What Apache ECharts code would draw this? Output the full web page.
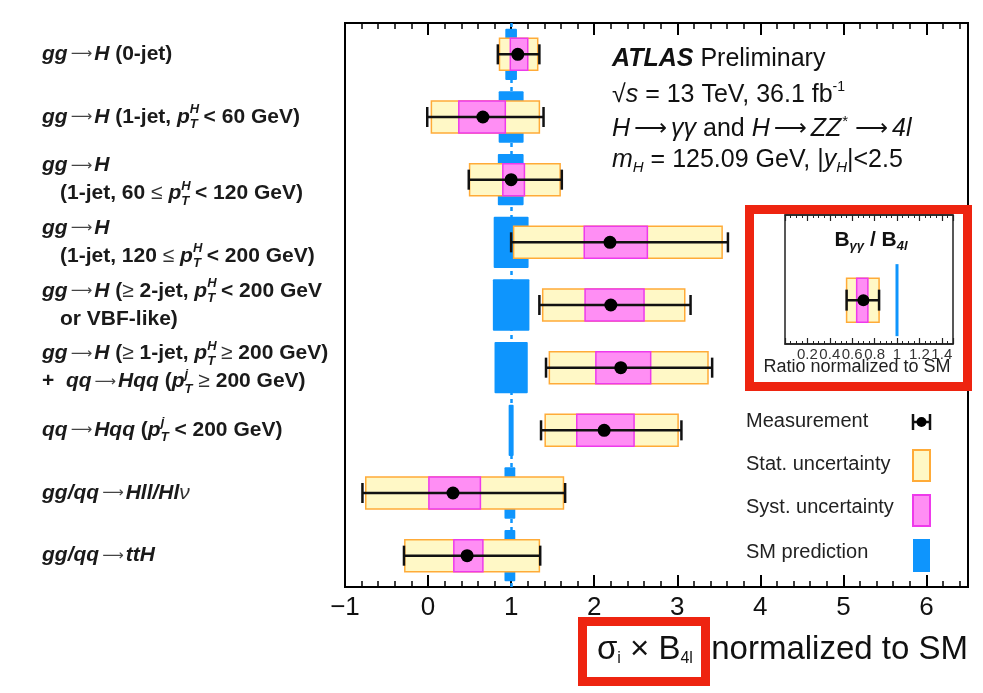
<!DOCTYPE html>
<html lang="en">
<head>
<meta charset="UTF-8">
<title>ATLAS STXS</title>
<style>
  html, body { margin: 0; padding: 0; background: #fff; }
  #chart { width: 983px; height: 693px; }
</style>
</head>
<body>
<div id="chart"></div>
<script src="https://cdn.jsdelivr.net/npm/echarts@6/dist/echarts.min.js"></script>
<script>
// row labels, top to bottom (rich text)
var categories = [
  '{bi|gg}{ar|⟶}{bi|H} {b|(0-jet)}',
  '{bi|gg}{ar|⟶}{bi|H} {b|(1-jet,} {bi|p}{sup|H}{sub|T} {b|< 60 GeV)}',
  '{bi|gg}{ar|⟶}{bi|H}\n{ind| }{b|(1-jet, 60} {rel|≤} {bi|p}{sup|H}{sub|T} {b|< 120 GeV)}',
  '{bi|gg}{ar|⟶}{bi|H}\n{ind| }{b|(1-jet, 120} {rel|≤} {bi|p}{sup|H}{sub|T} {b|< 200 GeV)}',
  '{bi|gg}{ar|⟶}{bi|H} {b|(}{rel|≥}{b| 2-jet,} {bi|p}{sup|H}{sub|T} {b|< 200 GeV}\n{ind| }{b|or VBF-like)}',
  '{bi|gg}{ar|⟶}{bi|H} {b|(}{rel|≥}{b| 1-jet,} {bi|p}{sup|H}{sub|T} {rel|≥}{b| 200 GeV)}\n{b|+}  {bi|qq}{ar|⟶}{bi|Hqq} {b|(}{bi|p}{sup|j}{sub|T} {rel|≥}{b| 200 GeV)}',
  '{bi|qq}{ar|⟶}{bi|Hqq} {b|(}{bi|p}{sup|j}{sub|T} {b|< 200 GeV)}',
  '{bi|gg/qq}{ar|⟶}{bi|Hll/Hl}{nu|ν}',
  '{bi|gg/qq}{ar|⟶}{bi|ttH}'
];

// sigma_i x B_4l normalized to SM
var central = [1.08, 0.66, 1.00, 2.19, 2.20, 2.32, 2.12, 0.30, 0.47];
var statLo  = [0.86, 0.04, 0.50, 1.03, 1.38, 1.46, 1.41, -0.75, -0.28];
var statHi  = [1.32, 1.34, 1.59, 3.54, 3.09, 3.37, 3.01, 1.63, 1.34];
var systLo  = [0.99, 0.37, 0.90, 1.88, 1.89, 2.02, 1.79, 0.01, 0.31];
var systHi  = [1.20, 0.93, 1.16, 2.64, 2.60, 2.68, 2.48, 0.63, 0.66];
var totLo   = [0.84, -0.01, 0.49, 1.00, 1.34, 1.42, 1.36, -0.79, -0.29];
var totHi   = [1.34, 1.39, 1.61, 3.61, 3.16, 3.42, 3.05, 1.65, 1.35];
// SM prediction uncertainty band
var smLo    = [0.93, 0.85, 0.84, 0.79, 0.78, 0.80, 0.97, 0.92, 0.92];
var smHi    = [1.07, 1.15, 1.15, 1.21, 1.22, 1.20, 1.03, 1.05, 1.05];

// B_yy / B_4l inset
var ratioCentral = [0.70];
var ratioStat = [0.55, 0.84];
var ratioSyst = [0.64, 0.74];
var ratioTot = [0.55, 0.84];
var ratioSM = [1];

var xTicks = [-1, 0, 1, 2, 3, 4, 5, 6];

var FONT = '"Liberation Sans", Arial, Helvetica, sans-serif';
var SYM = '"DejaVu Sans", sans-serif';
var statFill = '#fff8c6', statLine = '#ffab38';
var systFill = '#ff8ef4', systLine = '#ee3aeb';
var smBlue = '#0e95fd';
var red = '#ee2410';

var measData = central.map(function (c, i) {
  return [i, c, statLo[i], statHi[i], systLo[i], systHi[i], totLo[i], totHi[i]];
});
var smData = smLo.map(function (lo, i) { return [i, lo, smHi[i]]; });

function drawMeas(cy, x, hBox, hCap, r) {
  return [
    { type: 'rect', shape: { x: x.sLo, y: cy - hBox / 2, width: x.sHi - x.sLo, height: hBox },
      style: { fill: statFill, stroke: statLine, lineWidth: 1.5 } },
    { type: 'rect', shape: { x: x.yLo, y: cy - hBox / 2, width: x.yHi - x.yLo, height: hBox },
      style: { fill: systFill, stroke: systLine, lineWidth: 1.5 } },
    { type: 'line', shape: { x1: x.tLo, y1: cy, x2: x.tHi, y2: cy }, style: { stroke: '#111', lineWidth: 2.5 } },
    { type: 'line', shape: { x1: x.tLo, y1: cy - hCap / 2, x2: x.tLo, y2: cy + hCap / 2 }, style: { stroke: '#111', lineWidth: 2.5 } },
    { type: 'line', shape: { x1: x.tHi, y1: cy - hCap / 2, x2: x.tHi, y2: cy + hCap / 2 }, style: { stroke: '#111', lineWidth: 2.5 } },
    { type: 'circle', shape: { cx: x.c, cy: cy, r: r }, style: { fill: '#000' } }
  ];
}

function renderMain(params, api) {
  var row = api.value(0);
  var band = api.size([0, 1])[1];
  var px = function (v) { return api.coord([v, row])[0]; };
  var cy = api.coord([0, row])[1];
  var x = { c: px(api.value(1)), sLo: px(api.value(2)), sHi: px(api.value(3)),
            yLo: px(api.value(4)), yHi: px(api.value(5)), tLo: px(api.value(6)), tHi: px(api.value(7)) };
  return { type: 'group', children: drawMeas(cy, x, band * 0.51, band * 0.32, 6.5) };
}

function renderSM(params, api) {
  var row = api.value(0);
  var band = api.size([0, 1])[1];
  var p0 = api.coord([api.value(1), row]);
  var p1 = api.coord([api.value(2), row]);
  var h = band * 0.82;
  return { type: 'rect', shape: { x: p0[0], y: p0[1] - h / 2, width: p1[0] - p0[0], height: h, r: 1 },
           style: { fill: smBlue } };
}

var insetY = 0.34;
function renderInset(params, api) {
  var px = function (v) { return api.coord([v, insetY])[0]; };
  var cy = api.coord([0, insetY])[1];
  var x = { c: px(api.value(0)), sLo: px(api.value(1)), sHi: px(api.value(2)),
            yLo: px(api.value(3)), yHi: px(api.value(4)), tLo: px(api.value(5)), tHi: px(api.value(6)) };
  return { type: 'group', children: drawMeas(cy, x, 44, 21, 6) };
}
function renderInsetSM(params, api) {
  var p = api.coord([api.value(0), insetY]);
  return { type: 'rect', shape: { x: p[0] - 1.5, y: p[1] - 36, width: 3, height: 72 }, style: { fill: smBlue } };
}

var rich = {
  bi: { fontFamily: FONT, fontSize: 21, fontWeight: 'bold', fontStyle: 'italic', color: '#1a1a1a', lineHeight: 28 },
  b: { fontFamily: FONT, fontSize: 21, fontWeight: 'bold', color: '#1a1a1a', lineHeight: 28 },
  ar: { fontFamily: SYM, fontSize: 15, fontWeight: 'normal', color: '#444', lineHeight: 28, padding: [0, 2, 0, 3] },
  rel: { fontFamily: FONT, fontSize: 21, fontWeight: 'normal', color: '#333', lineHeight: 28 },
  nu: { fontFamily: FONT, fontSize: 21, fontWeight: 'normal', fontStyle: 'italic', color: '#333', lineHeight: 28 },
  sup: { fontFamily: FONT, fontSize: 13, fontWeight: 'bold', fontStyle: 'italic', color: '#1a1a1a',
         verticalAlign: 'top', lineHeight: 20, width: 0 },
  sub: { fontFamily: FONT, fontSize: 13, fontWeight: 'bold', fontStyle: 'italic', color: '#1a1a1a',
         verticalAlign: 'bottom', lineHeight: 4 },
  ind: { width: 18, lineHeight: 28 }
};

var mainRect = { left: 345, top: 23, width: 623, height: 564 };

var chart = echarts.init(document.getElementById('chart'));
chart.setOption({
  animation: false,
  textStyle: { fontFamily: FONT },
  grid: [
    Object.assign({ show: true, borderColor: '#000', borderWidth: 2, containLabel: false }, mainRect),
    { left: 785, top: 215, width: 168, height: 129, show: true, borderColor: '#222', borderWidth: 1.5 },
    Object.assign({ show: false }, mainRect)
  ],
  xAxis: [
    { gridIndex: 0, type: 'value', position: 'bottom', min: -1, max: 6.5, interval: 1,
      axisLine: { show: true, onZero: false, lineStyle: { color: '#000', width: 2 } },
      axisTick: { show: true, inside: true, length: 12, lineStyle: { color: '#000', width: 2 } },
      axisLabel: { fontSize: 26, color: '#111', margin: 8,
        formatter: function (v) {
          if (xTicks.indexOf(Math.round(v * 10) / 10) < 0) return '';
          return v < 0 ? '\u2212' + (-v) : String(v);
        } },
      splitLine: { show: false } },
    { gridIndex: 0, type: 'value', position: 'top', min: -1, max: 6.5, interval: 1,
      axisLine: { show: true, onZero: false, lineStyle: { color: '#000', width: 2 } },
      axisTick: { show: true, inside: true, length: 12, lineStyle: { color: '#000', width: 2 } },
      axisLabel: { show: false }, splitLine: { show: false } },
    { gridIndex: 2, type: 'value', position: 'bottom', min: -1, max: 6.5, interval: 0.2,
      axisLine: { show: false, onZero: false },
      axisTick: { show: true, inside: true, length: 6, lineStyle: { color: '#000', width: 1.5 } },
      axisLabel: { show: false }, splitLine: { show: false } },
    { gridIndex: 2, type: 'value', position: 'top', min: -1, max: 6.5, interval: 0.2,
      axisLine: { show: false, onZero: false },
      axisTick: { show: true, inside: true, length: 6, lineStyle: { color: '#000', width: 1.5 } },
      axisLabel: { show: false }, splitLine: { show: false } },
    { gridIndex: 1, type: 'value', position: 'bottom', min: 0, max: 1.5, interval: 0.2,
      axisLine: { show: true, onZero: false, lineStyle: { color: '#222', width: 1.5 } },
      axisTick: { show: true, inside: true, length: 6, lineStyle: { color: '#222', width: 1.2 } },
      minorTick: { show: true, splitNumber: 4, length: 3, lineStyle: { color: '#222', width: 1 } },
      axisLabel: { fontSize: 15, color: '#333', margin: 3,
        formatter: function (v) { return (v < 0.1 || v > 1.45) ? '' : String(v); } },
      splitLine: { show: false } },
    { gridIndex: 1, type: 'value', position: 'top', min: 0, max: 1.5, interval: 0.2,
      axisLine: { show: true, onZero: false, lineStyle: { color: '#222', width: 1.5 } },
      axisTick: { show: true, inside: true, length: 6, lineStyle: { color: '#222', width: 1.2 } },
      minorTick: { show: true, splitNumber: 4, length: 3, lineStyle: { color: '#222', width: 1 } },
      axisLabel: { show: false }, splitLine: { show: false } }
  ],
  yAxis: [
    { gridIndex: 0, type: 'category', data: categories, inverse: true, boundaryGap: true,
      axisLine: { show: true, onZero: false, lineStyle: { color: '#000', width: 2 } },
      axisTick: { show: false },
      axisLabel: { show: true, align: 'left', margin: 303, interval: 0,
        fontSize: 21, fontWeight: 'bold', color: '#1a1a1a', lineHeight: 28, rich: rich },
      splitLine: { show: false } },
    { gridIndex: 1, type: 'value', min: 0, max: 1, show: false },
    { gridIndex: 2, type: 'value', min: 0, max: 1, show: false }
  ],
  series: [
    { type: 'custom', name: 'SM prediction', xAxisIndex: 0, yAxisIndex: 0, z: 2,
      renderItem: renderSM, encode: { x: [1, 2], y: 0 }, data: smData,
      markLine: { silent: true, symbol: 'none', z: 1, label: { show: false },
        lineStyle: { color: smBlue, width: 2.5, type: [4, 4] }, data: [{ xAxis: 1 }] } },
    { type: 'custom', name: 'Measurement', xAxisIndex: 0, yAxisIndex: 0, z: 10,
      renderItem: renderMain, encode: { x: [1, 2, 3, 4, 5, 6, 7], y: 0 }, data: measData },
    { type: 'custom', name: 'SM ratio', xAxisIndex: 4, yAxisIndex: 1, z: 10,
      renderItem: renderInsetSM, encode: { x: 0 }, data: ratioSM.map(function (v) { return [v]; }) },
    { type: 'custom', name: 'Ratio', xAxisIndex: 4, yAxisIndex: 1, z: 10,
      renderItem: renderInset, encode: { x: [0, 1, 2, 3, 4, 5, 6] },
      data: [[ratioCentral[0], ratioStat[0], ratioStat[1], ratioSyst[0], ratioSyst[1], ratioTot[0], ratioTot[1]]] }
  ],
  graphic: [
    // ATLAS label block
    { type: 'text', left: 612, top: 47, z: 50, style: { text: '{bi|ATLAS} Preliminary', fontSize: 25, fill: '#111', fontFamily: FONT,
        rich: { bi: { fontSize: 25, fontWeight: 'bold', fontStyle: 'italic', fontFamily: FONT } } } },
    { type: 'text', left: 612, top: 80, z: 50, style: { text: '√{i|s} = 13 TeV, 36.1 fb{sup|-1}', fontSize: 25, fill: '#111', fontFamily: FONT,
        rich: { i: { fontSize: 25, fontStyle: 'italic', fontFamily: FONT, lineHeight: 30 },
                sup: { fontSize: 14, fontFamily: FONT, verticalAlign: 'top', lineHeight: 14 } } } },
    { type: 'text', left: 612, top: 114, z: 50, style: { text: '{i|H}{ar|⟶}{i|γγ} and {i|H}{ar|⟶}{i|ZZ}{sup|*}{ar|⟶}{i|4l}', fontSize: 25, fill: '#111', fontFamily: FONT,
        rich: { i: { fontSize: 25, fontStyle: 'italic', fontFamily: FONT, lineHeight: 30 },
                ar: { fontSize: 23, fontFamily: SYM, lineHeight: 30, padding: [0, 4, 0, 4] },
                sup: { fontSize: 15, fontFamily: FONT, verticalAlign: 'top', lineHeight: 16, padding: [0, 3, 0, 1] } } } },
    { type: 'text', left: 612, top: 148, z: 50, style: { text: '{i|m}{sub|H} = 125.09 GeV, |{i|y}{sub|H}|<2.5', fontSize: 25, fill: '#111', fontFamily: FONT,
        rich: { i: { fontSize: 25, fontStyle: 'italic', fontFamily: FONT, lineHeight: 30 },
                sub: { fontSize: 15, fontStyle: 'italic', fontFamily: FONT, verticalAlign: 'bottom', lineHeight: 4 } } } },
    // inset texts
    { type: 'text', x: 871, y: 240, z: 50, style: { text: '{b|B}{sub|γγ}{b| / B}{sub|4l}', align: 'center', verticalAlign: 'middle', fill: '#111',
        rich: { b: { fontSize: 21, fontWeight: 'bold', fontFamily: FONT, lineHeight: 26 },
                sub: { fontSize: 13, fontWeight: 'bold', fontStyle: 'italic', fontFamily: FONT, verticalAlign: 'bottom', lineHeight: 6 } } } },
    { type: 'text', x: 857, y: 367, z: 50, style: { text: 'Ratio normalized to SM', fontSize: 18, fontFamily: FONT, fill: '#222', align: 'center', verticalAlign: 'middle' } },
    // red frames
    { type: 'rect', z: 60, shape: { x: 749.5, y: 209.5, width: 218, height: 177 }, style: { fill: null, stroke: red, lineWidth: 9 } },
    { type: 'rect', z: 60, shape: { x: 582.5, y: 621.5, width: 123, height: 60 }, style: { fill: null, stroke: red, lineWidth: 9 } },
    // axis title
    { type: 'text', x: 968, y: 650, z: 50, style: { text: 'σ{s|i} × B{s|4l}  normalized to SM', fontSize: 33, fontFamily: FONT, fill: '#111',
        align: 'right', verticalAlign: 'middle',
        rich: { s: { fontSize: 16, fontFamily: FONT, verticalAlign: 'bottom', lineHeight: 4 } } } },
    // legend
    { type: 'text', left: 746, top: 411, z: 50, style: { text: 'Measurement', fontSize: 20, fontFamily: FONT, fill: '#222' } },
    { type: 'text', left: 746, top: 454, z: 50, style: { text: 'Stat. uncertainty', fontSize: 20, fontFamily: FONT, fill: '#222' } },
    { type: 'text', left: 746, top: 497, z: 50, style: { text: 'Syst. uncertainty', fontSize: 20, fontFamily: FONT, fill: '#222' } },
    { type: 'text', left: 746, top: 542, z: 50, style: { text: 'SM prediction', fontSize: 20, fontFamily: FONT, fill: '#222' } },
    { type: 'line', z: 50, shape: { x1: 913, y1: 422, x2: 930, y2: 422 }, style: { stroke: '#111', lineWidth: 2.5 } },
    { type: 'line', z: 50, shape: { x1: 913, y1: 414, x2: 913, y2: 430 }, style: { stroke: '#111', lineWidth: 2.5 } },
    { type: 'line', z: 50, shape: { x1: 930, y1: 414, x2: 930, y2: 430 }, style: { stroke: '#111', lineWidth: 2.5 } },
    { type: 'circle', z: 50, shape: { cx: 921.5, cy: 422, r: 5 }, style: { fill: '#000' } },
    { type: 'rect', z: 50, shape: { x: 913, y: 450, width: 17, height: 31 }, style: { fill: statFill, stroke: statLine, lineWidth: 2 } },
    { type: 'rect', z: 50, shape: { x: 913, y: 495, width: 17, height: 31 }, style: { fill: systFill, stroke: systLine, lineWidth: 2 } },
    { type: 'rect', z: 50, shape: { x: 913, y: 539, width: 17, height: 33 }, style: { fill: smBlue } }
  ]
});
</script>
</body>
</html>
